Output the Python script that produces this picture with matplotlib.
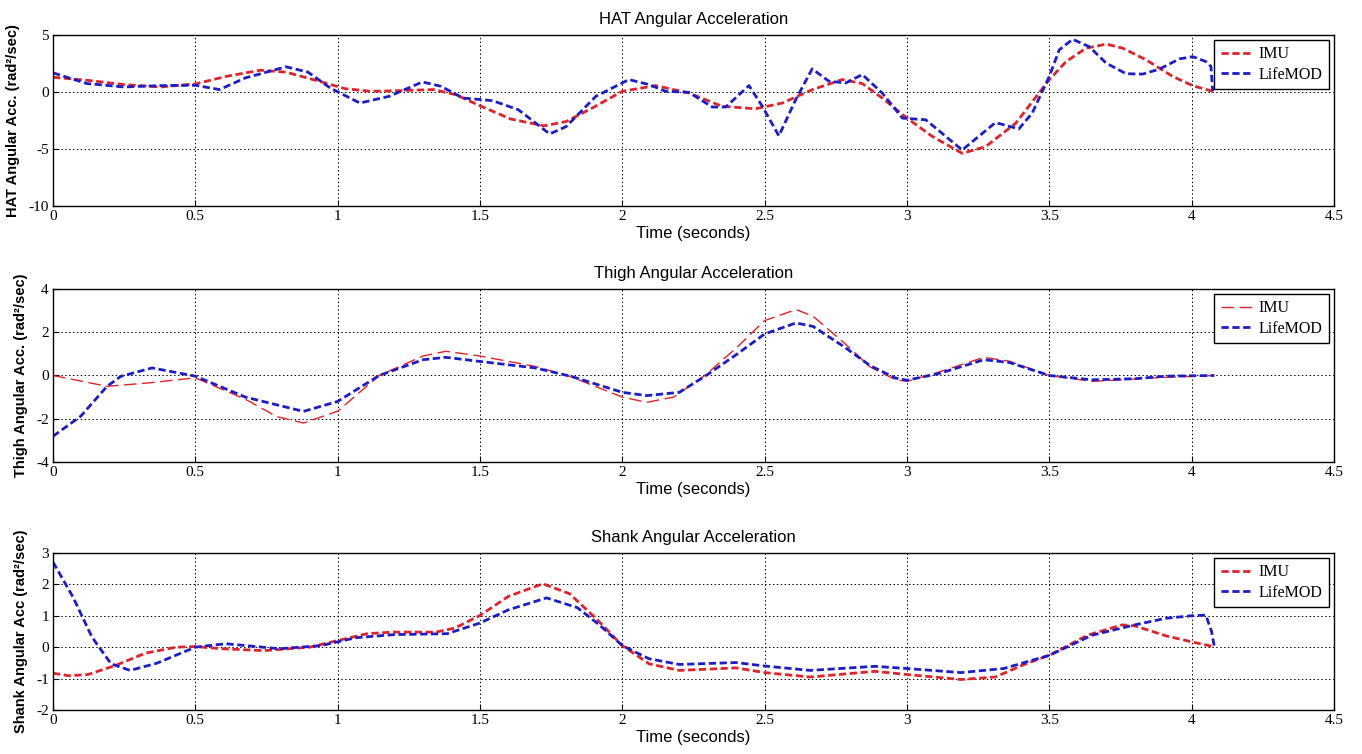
import matplotlib
matplotlib.use('Agg')
import matplotlib.pyplot as plt

plt.rcParams['axes.unicode_minus'] = False

# --- data (time in s, angular acc.) ---
hat_imu_t = [0, 0.119, 0.249, 0.378, 0.5, 0.611, 0.728, 0.819, 0.935, 1.026, 1.117, 1.22, 1.337, 1.415,
             1.5, 1.609, 1.725, 1.803, 1.894, 2.0, 2.117, 2.234, 2.351, 2.468, 2.562, 2.667, 2.773,
             2.843, 2.913, 3.0, 3.089, 3.194, 3.276, 3.382, 3.5, 3.559, 3.629, 3.7, 3.758, 3.84,
             3.933, 4.004, 4.074]
hat_imu = [1.29, 1.03, 0.65, 0.44, 0.71, 1.38, 1.91, 1.74, 0.94, 0.29, 0.06, 0.12, 0.21, -0.24,
           -1.21, -2.38, -2.97, -2.59, -1.41, 0.06, 0.56, -0.09, -1.26, -1.47, -0.97, 0.2, 1.09,
           0.74, -0.53, -2.29, -3.9, -5.38, -4.8, -2.74, 1.08, 2.67, 3.84, 4.2, 3.84, 2.82,
           1.37, 0.55, 0.06]
hat_lm_t = [0, 0.119, 0.249, 0.378, 0.5, 0.585, 0.676, 0.819, 0.896, 0.974, 1.078, 1.181, 1.298, 1.363,
            1.44, 1.544, 1.635, 1.745, 1.803, 1.907, 2.023, 2.094, 2.152, 2.234, 2.316, 2.363, 2.445,
            2.492, 2.55, 2.609, 2.667, 2.726, 2.785, 2.843, 2.913, 2.984, 3.066, 3.194, 3.311, 3.393,
            3.44, 3.5, 3.535, 3.582, 3.64, 3.7, 3.77, 3.828, 3.886, 3.957, 4.004, 4.05, 4.068, 4.074]
hat_lm = [1.68, 0.74, 0.44, 0.56, 0.59, 0.21, 1.24, 2.21, 1.74, 0.35, -0.97, -0.38, 0.88, 0.5,
          -0.53, -0.76, -1.56, -3.68, -3.03, -0.38, 1.09, 0.65, 0.06, -0.03, -1.32, -1.32, 0.56,
          -1.26, -3.85, -0.68, 2.03, 0.94, 0.79, 1.53, -0.09, -2.29, -2.44, -5.09, -2.68, -3.24,
          -1.85, 1.37, 3.7, 4.62, 3.98, 2.53, 1.6, 1.57, 2.0, 2.9, 3.1, 2.67, 2.24, 0.06]

thigh_imu_t = [0, 0.19, 0.33, 0.5, 0.676, 0.786, 0.88, 1.0, 1.146, 1.3, 1.38, 1.5, 1.694, 1.82, 2.0,
               2.086, 2.18, 2.29, 2.4, 2.5, 2.61, 2.67, 2.78, 2.87, 2.96, 3.0, 3.115, 3.27, 3.36,
               3.5, 3.65, 3.726, 3.88, 4.08]
thigh_imu = [0.0, -0.5, -0.35, -0.11, -1.1, -1.9, -2.2, -1.65, 0.0, 0.9, 1.12, 0.9, 0.42, -0.06, -1.0,
             -1.24, -1.0, 0.0, 1.27, 2.54, 3.05, 2.74, 1.5, 0.4, -0.2, -0.27, 0.17, 0.84, 0.66,
             0.0, -0.27, -0.22, -0.1, 0.0]
thigh_lm_t = [0, 0.097, 0.19, 0.238, 0.348, 0.5, 0.676, 0.88, 1.0, 1.146, 1.3, 1.38, 1.5, 1.694, 1.82,
              2.0, 2.086, 2.2, 2.29, 2.4, 2.5, 2.61, 2.67, 2.78, 2.87, 2.96, 3.0, 3.115, 3.27, 3.36,
              3.5, 3.65, 3.8, 3.91, 4.08]
thigh_lm = [-2.81, -1.89, -0.5, -0.04, 0.35, -0.03, -1.0, -1.66, -1.2, 0.0, 0.73, 0.84, 0.65, 0.35, -0.04,
            -0.78, -0.93, -0.78, -0.04, 0.96, 1.92, 2.43, 2.27, 1.32, 0.46, -0.12, -0.22, 0.1, 0.73, 0.6,
            0.0, -0.2, -0.15, -0.03, 0.0]

shank_imu_t = [0, 0.056, 0.123, 0.217, 0.325, 0.432, 0.5, 0.593, 0.741, 0.902, 1.0, 1.103, 1.197,
               1.345, 1.412, 1.5, 1.6, 1.721, 1.815, 1.909, 2.0, 2.094, 2.2, 2.4, 2.5, 2.66, 2.887,
               3.0, 3.19, 3.31, 3.42, 3.5, 3.634, 3.756, 3.8, 3.91, 4.0, 4.08]
shank_imu = [-0.83, -0.91, -0.87, -0.59, -0.19, 0.0, 0.02, -0.05, -0.11, 0.0, 0.21, 0.43, 0.48,
             0.48, 0.61, 1.01, 1.62, 2.02, 1.7, 0.9, 0.05, -0.53, -0.74, -0.66, -0.81, -0.95, -0.77,
             -0.87, -1.03, -0.95, -0.52, -0.26, 0.38, 0.71, 0.68, 0.36, 0.17, 0.01]
shank_lm_t = [0, 0.07, 0.137, 0.204, 0.271, 0.365, 0.5, 0.607, 0.795, 0.942, 1.063, 1.197, 1.385,
              1.5, 1.6, 1.734, 1.842, 1.922, 2.0, 2.094, 2.2, 2.4, 2.5, 2.66, 2.887, 3.0, 3.19,
              3.34, 3.5, 3.65, 3.8, 3.91, 4.0, 4.05, 4.07, 4.08]
shank_lm = [2.71, 1.6, 0.32, -0.53, -0.74, -0.51, 0.0, 0.11, -0.05, 0.05, 0.3, 0.4, 0.43,
            0.77, 1.19, 1.57, 1.26, 0.69, 0.05, -0.37, -0.55, -0.49, -0.6, -0.74, -0.61, -0.68, -0.81,
            -0.68, -0.26, 0.38, 0.71, 0.92, 1.0, 1.02, 0.5, 0.01]

titles = ['HAT Angular Acceleration', 'Thigh Angular Acceleration', 'Shank Angular Acceleration']
ylabels = ['HAT Angular Acc. (rad\u00b2/sec)', 'Thigh Angular Acc. (rad\u00b2/sec)',
           'Shank Angular Acc (rad\u00b2/sec)']
yticks = [[-10, -5, 0, 5], [-4, -2, 0, 2, 4], [-2, -1, 0, 1, 2, 3]]
xticks = [0, 0.5, 1, 1.5, 2, 2.5, 3, 3.5, 4, 4.5]

RED = '#e32228'
BLUE = '#1c1ccf'

fig = plt.figure(figsize=(13.62, 7.54), dpi=100)
# axes boxes [left, bottom, width, height] in figure fraction
boxes = [[0.0389, 0.7268, 0.9405, 0.2268],
         [0.0389, 0.3873, 0.9405, 0.2294],
         [0.0389, 0.0584, 0.9405, 0.2082]]

series = [
    (hat_imu_t, hat_imu, hat_lm_t, hat_lm),
    (thigh_imu_t, thigh_imu, thigh_lm_t, thigh_lm),
    (shank_imu_t, shank_imu, shank_lm_t, shank_lm),
]

for i, (box, (t1, y1, t2, y2)) in enumerate(zip(boxes, series)):
    ax = fig.add_axes(box)
    if i == 1:
        ax.plot(t1, y1, color=RED, lw=1.0, dashes=(9, 4), label='IMU')
    else:
        ax.plot(t1, y1, color=RED, lw=2.0, dashes=(2.6, 1.3), label='IMU')
    ax.plot(t2, y2, color=BLUE, lw=2.0, dashes=(2.6, 1.3), label='LifeMOD')

    ax.set_xlim(0, 4.5)
    ax.set_ylim(yticks[i][0], yticks[i][-1])
    ax.set_xticks(xticks)
    ax.set_xticklabels(['0', '0.5', '1', '1.5', '2', '2.5', '3', '3.5', '4', '4.5'])
    ax.set_yticks(yticks[i])
    for lab in ax.get_xticklabels() + ax.get_yticklabels():
        lab.set_fontfamily('Liberation Serif')
        lab.set_fontsize(11)
    ax.tick_params(direction='in', length=4, width=0.8, pad=3)
    ax.grid(True, color='black', linestyle=(0, (1.5, 2.5)), linewidth=0.7)
    for s in ax.spines.values():
        s.set_linewidth(1.0)

    ax.set_title(titles[i], fontfamily='Liberation Sans', fontsize=12, pad=8)
    ax.set_xlabel('Time (seconds)', fontfamily='Liberation Sans', fontsize=12, labelpad=2)
    ax.set_ylabel(ylabels[i], fontfamily='Liberation Sans', fontsize=10.5, fontweight='bold', labelpad=6)

    leg = ax.legend(loc='upper right', prop={'family': 'Liberation Serif', 'size': 11.5},
                    fancybox=False, framealpha=1, edgecolor='black', handlelength=2.0,
                    borderpad=0.4, labelspacing=0.3, handletextpad=0.4, borderaxespad=0.3)
    leg.get_frame().set_linewidth(1.0)

fig.savefig('out.png', dpi=100)
